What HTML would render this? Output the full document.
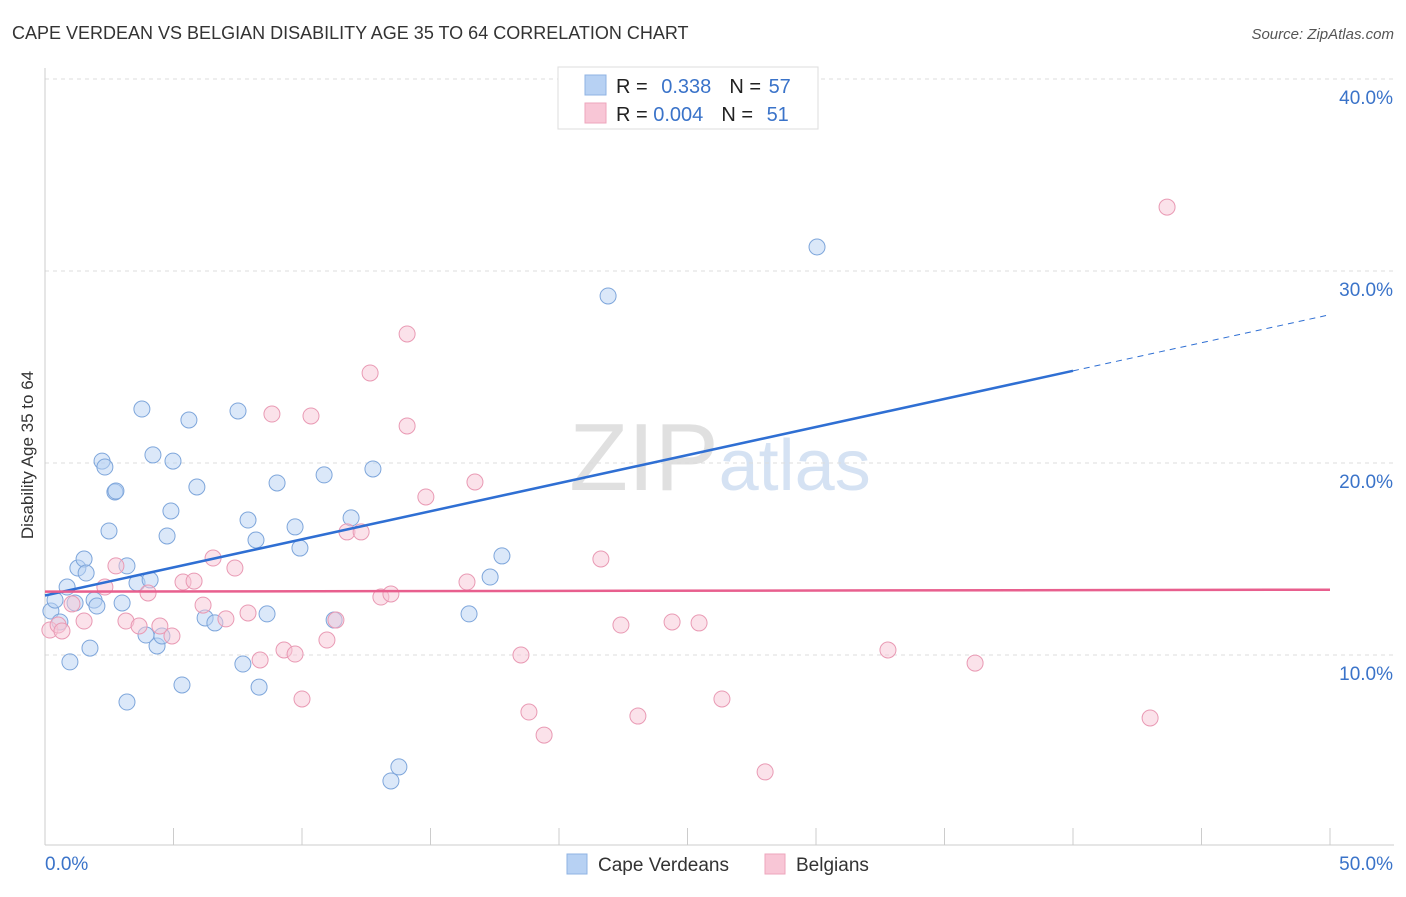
<!DOCTYPE html>
<html><head><meta charset="utf-8"><style>
body{margin:0;background:#fff;font-family:"Liberation Sans",sans-serif;}
svg text{font-family:"Liberation Sans",sans-serif;}
</style></head><body>
<svg id="chart" width="1406" height="892" xmlns="http://www.w3.org/2000/svg">
<text x="12" y="39" font-size="18" fill="#333">CAPE VERDEAN VS BELGIAN DISABILITY AGE 35 TO 64 CORRELATION CHART</text>
<text x="1394" y="39" font-size="15" fill="#555" text-anchor="end" font-style="italic">Source: ZipAtlas.com</text>
<text x="33" y="455" font-size="17" fill="#333" text-anchor="middle" transform="rotate(-90 33 455)">Disability Age 35 to 64</text>
<text x="720" y="490" font-size="96" fill="#ddd" text-anchor="middle" font-family="Liberation Serif"><tspan fill="#e0e0e0">ZIP</tspan><tspan fill="#d5e2f3" font-family="Liberation Sans" font-size="72">atlas</tspan></text>
<g id="grid"></g><g id="axes"></g><g id="marks"></g>
<g>
<rect x="558" y="67" width="260" height="62" fill="#fff" stroke="#ddd"/>
<rect x="585" y="75" width="21" height="20" fill="#b7d1f3" stroke="#8fb3e3"/>
<rect x="585" y="103" width="21" height="20" fill="#f8c6d6" stroke="#eea6bc"/>
<text x="616" y="93" font-size="20" fill="#222">R = <tspan fill="#3a73c9" dx="8">0.338</tspan><tspan fill="#222" dx="18">N = </tspan><tspan fill="#3a73c9" dx="2">57</tspan></text>
<text x="616" y="121" font-size="20" fill="#222">R = <tspan fill="#3a73c9">0.004</tspan><tspan fill="#222" dx="18">N = </tspan><tspan fill="#3a73c9" dx="8">51</tspan></text>
</g>
<g>
<rect x="567" y="854" width="20" height="20" fill="#b7d1f3" stroke="#8fb3e3"/>
<text x="598" y="871" font-size="19" fill="#333">Cape Verdeans</text>
<rect x="765" y="854" width="20" height="20" fill="#f8c6d6" stroke="#eea6bc"/>
<text x="796" y="871" font-size="19" fill="#333">Belgians</text>
</g>
</svg>
<script>
const blueX=[0.23,0.39,0.58,0.86,0.97,1.17,1.28,1.52,1.60,1.75,1.91,2.02,2.22,2.33,2.49,2.72,2.76,3.0,3.19,3.19,3.58,3.77,3.93,4.09,4.2,4.36,4.55,4.75,4.9,4.98,5.33,5.6,5.91,6.23,6.61,7.51,7.7,7.9,8.21,8.33,8.64,9.03,9.73,9.92,10.86,11.25,11.91,12.76,13.46,13.77,16.5,17.32,17.78,21.91,30.04];
const blueY=[12.29,12.86,11.72,13.54,9.64,12.71,14.53,15.0,14.27,10.36,12.86,12.55,20.1,19.79,16.46,18.49,18.54,12.71,14.64,7.55,13.75,22.81,11.04,13.91,20.42,10.47,10.99,16.2,17.5,20.1,8.44,22.24,18.75,11.93,11.67,22.71,9.53,17.03,15.99,8.33,12.14,18.96,16.67,15.57,19.38,11.82,17.14,19.69,3.44,4.17,12.14,14.06,15.16,28.7,31.25];
const pinkX=[0.19,0.51,0.66,1.05,1.52,2.33,2.76,3.15,4.01,3.66,4.47,4.94,5.37,5.8,6.15,6.54,7.04,7.39,7.9,8.37,8.83,9.3,9.73,10.0,10.35,10.97,11.32,11.75,12.3,12.65,13.07,13.46,14.09,14.09,14.82,16.42,16.73,18.52,18.83,19.42,21.63,22.41,23.07,24.4,25.45,26.34,28.02,32.8,36.19,43.0,43.66];
const pinkY=[11.3,11.56,11.25,12.66,11.77,13.54,14.64,11.77,13.23,11.51,11.51,10.99,13.8,13.85,12.6,15.05,11.88,14.53,12.19,9.74,22.55,10.26,10.05,7.71,22.45,10.78,11.82,16.41,16.41,24.69,13.02,13.18,26.72,21.93,18.23,13.8,19.01,10.0,7.03,5.83,15.0,11.56,6.82,11.72,11.67,7.71,3.91,10.26,9.58,6.72,33.33];
const blueTrend=[13.1,0.2925]; // intercept, slope
const pinkTrend=[13.3,0.002];
const yTicks=[10,20,30,40];
const yTickLabels=["10.0%","20.0%","30.0%","40.0%"];
const xTickLabels=["0.0%","50.0%"];
const NS='http://www.w3.org/2000/svg';
const X=v=>45+v*25.7, Y=v=>847-v*19.2;
function mk(tag,attrs,parent){const e=document.createElementNS(NS,tag);for(const k in attrs)e.setAttribute(k,attrs[k]);document.getElementById(parent).appendChild(e);return e;}
yTicks.forEach((t,i)=>{
 const g=mk('line',{x1:45,x2:1394,y1:Y(t),y2:Y(t),stroke:'#ddd','stroke-dasharray':'4,4'},'grid');
 
 
 const tx=mk('text',{x:1393,y:Y(t)+25,'font-size':19,fill:'#3a73c9','text-anchor':'end'},'grid');
 tx.textContent=yTickLabels[i];
 
 
});
const ax=mk('line',{x1:45,x2:1394,y1:845,y2:845,stroke:'#ccc'},'axes');


const ay=mk('line',{x1:45,x2:45,y1:68,y2:845,stroke:'#ccc'},'axes');


for(let i=0;i<=10;i++){const t=mk('line',{x1:X(i*5),x2:X(i*5),y1:828,y2:845,stroke:'#ccc'},'axes');
 
 }
[[0,'start'],[50,'end']].forEach((p,i)=>{const t=mk('text',{x:i?1393:45,y:870,'font-size':19,fill:'#3a73c9','text-anchor':p[1]},'axes');t.textContent=xTickLabels[i];
 
 });
function dots(xs,ys,fill,stroke,name){xs.forEach((x,i)=>{const c=mk('circle',{cx:X(x),cy:Y(ys[i]),r:8,fill:fill,stroke:stroke,'stroke-width':1,'fill-opacity':0.5},'marks');
 
 });}
dots(blueX,blueY,'#b7d1f3','#7ea6db','cape-verdean-point');
dots(pinkX,pinkY,'#f8c6d6','#e99ab4','belgian-point');
const b1=mk('line',{x1:X(0),y1:Y(blueTrend[0]),x2:X(40),y2:Y(blueTrend[0]+40*blueTrend[1]),stroke:'#2f6fd3','stroke-width':2.5},'marks');


const b2=mk('line',{x1:X(40),y1:Y(blueTrend[0]+40*blueTrend[1]),x2:X(50),y2:Y(blueTrend[0]+50*blueTrend[1]),stroke:'#2f6fd3','stroke-width':1,'stroke-dasharray':'6,5'},'marks');


const p1=mk('line',{x1:X(0),y1:Y(pinkTrend[0]),x2:X(50),y2:Y(pinkTrend[0]+50*pinkTrend[1]),stroke:'#e85f8e','stroke-width':2.5},'marks');


</script>
</body></html>
